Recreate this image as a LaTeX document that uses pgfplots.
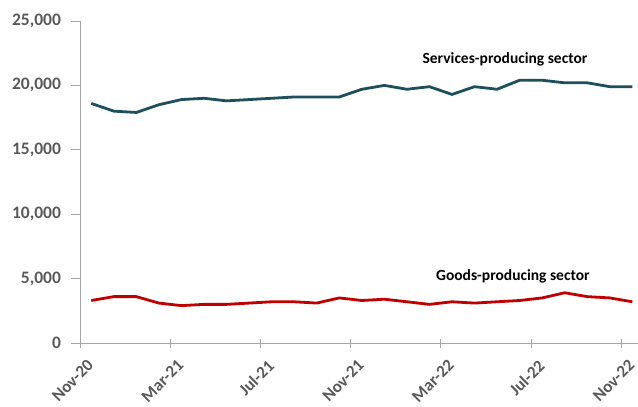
\documentclass[border=0pt]{standalone}
\usepackage{fontspec}
\setmainfont{Carlito}
\usepackage{pgfplots}
\pgfplotsset{compat=1.18}
\definecolor{svc}{RGB}{31,78,92}
\definecolor{gds}{RGB}{192,0,0}
\definecolor{axgray}{RGB}{166,166,166}
\definecolor{lblgray}{RGB}{89,89,89}

\begin{document}
\begin{tikzpicture}[x=1pt,y=1pt]
\path[use as bounding box] (-80,-64) rectangle (558,343);
\begin{axis}[
    at={(0,0)}, anchor=south west,
    scale only axis, width=558pt, height=322pt,
    xmin=0, xmax=24.75,
    ymin=0, ymax=25000,
    axis x line*=bottom, axis y line*=left,
    axis line style={axgray, line width=0.9pt},
    xtick={0,4,...,24},
    xticklabels={Nov-20,Mar-21,Jul-21,Nov-21,Mar-22,Jul-22,Nov-22},
    ytick={0,5000,...,25000},
    scaled y ticks=false,
    /pgf/number format/assume math mode=true,
    yticklabel style={/pgf/number format/1000 sep={,}, xshift=-11pt},
    tick align=center, major tick length=9pt,
    tick style={axgray, line width=0.8pt},
    y tick style={xshift=-4.5pt},
    ticklabel style={font=\fontsize{17.5}{17.5}\selectfont\bfseries, text=lblgray},
    x tick label style={font=\fontsize{17}{17}\selectfont\bfseries, rotate=45, anchor=north east, xshift=0pt, yshift=-9pt},
    clip=false,
]
\addplot[svc, line width=2.8pt] coordinates {
(0.5,18600)(1.5,18000)(2.5,17900)(3.5,18500)(4.5,18900)(5.5,19000)(6.5,18800)
(7.5,18900)(8.5,19000)(9.5,19100)(10.5,19100)(11.5,19100)(12.5,19700)(13.5,20000)
(14.5,19700)(15.5,19900)(16.5,19300)(17.5,19900)(18.5,19700)(19.5,20400)(20.5,20400)
(21.5,20200)(22.5,20200)(23.5,19900)(24.5,19900)
};
\addplot[gds, line width=2.8pt] coordinates {
(0.5,3300)(1.5,3600)(2.5,3600)(3.5,3100)(4.5,2900)(5.5,3000)(6.5,3000)
(7.5,3100)(8.5,3200)(9.5,3200)(10.5,3100)(11.5,3500)(12.5,3300)(13.5,3400)
(14.5,3200)(15.5,3000)(16.5,3200)(17.5,3100)(18.5,3200)(19.5,3300)(20.5,3500)
(21.5,3900)(22.5,3600)(23.5,3500)(24.5,3200)
};
\node[font=\fontsize{15.5}{15.5}\selectfont\bfseries] at (axis cs:18.85,22050) {Services-producing sector};
\node[font=\fontsize{15.5}{15.5}\selectfont\bfseries] at (axis cs:19.2,5150) {Goods-producing sector};
\end{axis}
\end{tikzpicture}
\end{document}
